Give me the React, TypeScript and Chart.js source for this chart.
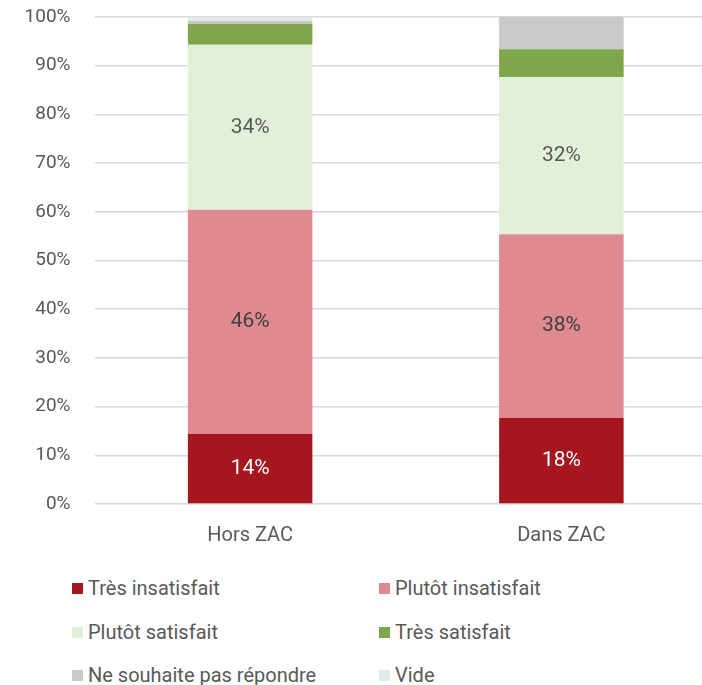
import React, { useEffect, useRef } from "react";
import { Chart, registerables } from "chart.js";

Chart.register(...registerables);

const categories = ["Hors ZAC", "Dans ZAC"];
const seriesNames = [
  "Très insatisfait",
  "Plutôt insatisfait",
  "Plutôt satisfait",
  "Très satisfait",
  "Ne souhaite pas répondre",
  "Vide",
];
const tresInsatisfait = [14.4, 17.7];
const plutotInsatisfait = [46.0, 37.7];
const plutotSatisfait = [33.9, 32.3];
const tresSatisfait = [4.3, 5.7];
const neSouhaitePas = [0.6, 6.6];
const vide = [0.8, 0];
const seriesValues = [tresInsatisfait, plutotInsatisfait, plutotSatisfait, tresSatisfait, neSouhaitePas, vide];
const colors = ["#A5161F", "#DF8A91", "#E2EFD9", "#7EA64B", "#C9C9C9", "#DFEAEA"];
const labelColors = ["#FFFFFF", "#404040", "#595959", "#595959", "#595959", "#595959"];
const yTicks = [0, 10, 20, 30, 40, 50, 60, 70, 80, 90, 100];

const FONT = "Roboto, 'DejaVu Sans', sans-serif";
const TEXT = "#595959";

const dataLabelPlugin = {
  id: "segLabels",
  afterDatasetsDraw(chart: any) {
    const ctx = chart.ctx;
    ctx.save();
    ctx.font = `400 21px ${FONT}`;
    ctx.textAlign = "center";
    ctx.textBaseline = "middle";
    chart.data.datasets.forEach((ds: any, di: number) => {
      const meta = chart.getDatasetMeta(di);
      meta.data.forEach((el: any, i: number) => {
        const v = ds.data[i];
        if (v < 10) return;
        ctx.fillStyle = labelColors[di];
        ctx.fillText(Math.round(v) + "%", el.x, (el.y + el.base) / 2);
      });
    });
    ctx.restore();
  },
};

export default function App() {
  const ref = useRef<HTMLCanvasElement>(null);
  useEffect(() => {
    if (!ref.current) return;
    const chart = new Chart(ref.current, {
      type: "bar",
      data: {
        labels: categories,
        datasets: seriesNames.map((n, i) => ({
          label: n,
          data: seriesValues[i],
          backgroundColor: colors[i],
          borderWidth: 0,
          categoryPercentage: 1,
          barPercentage: 0.4,
        })),
      },
      options: {
        animation: false,
        responsive: false,
        maintainAspectRatio: false,
        layout: { padding: { top: 17, right: 0, left: 0, bottom: 0 } },
        plugins: { legend: { display: false }, tooltip: { enabled: false } },
        scales: {
          x: {
            stacked: true,
            grid: { display: false, drawTicks: false },
            border: { display: false },
            ticks: { color: TEXT, font: { family: FONT, size: 20, weight: "400" as any }, padding: 20 },
            afterFit: (axis: any) => {
              axis.height = 56;
              axis.paddingLeft = 0;
              axis.paddingRight = 0;
            },
          },
          y: {
            stacked: true,
            min: 0,
            max: 100,
            afterBuildTicks: (axis: any) => {
              axis.ticks = yTicks.map((v) => ({ value: v }));
            },
            grid: { color: "#D9D9D9", lineWidth: 1.5, drawTicks: false },
            border: { display: false },
            ticks: {
              color: TEXT,
              font: { family: FONT, size: 19, weight: "400" as any },
              padding: 24,
              callback: (v: any) => v + "%",
            },
            afterFit: (axis: any) => {
              axis.width = 94.5;
              axis.paddingTop = 0;
              axis.paddingBottom = 0;
            },
          },
        },
      },
      plugins: [dataLabelPlugin],
    });
    return () => chart.destroy();
  }, []);

  const legendRows = [
    [0, 1],
    [2, 3],
    [4, 5],
  ];
  const colX = [72, 379];
  const rowY = [588, 632, 675];

  return (
    <div style={{ position: "absolute", left: 0, top: 0, width: 702, height: 685, overflow: "hidden", background: "#fff" }}>
      <canvas ref={ref} width={717} height={560} style={{ position: "absolute", left: 0, top: 0, width: 717, height: 560 }} />
      {legendRows.map((row, r) =>
        row.map((si, c) => (
          <div
            key={si}
            style={{
              position: "absolute",
              left: colX[c],
              top: rowY[r] - 15,
              height: 30,
              display: "flex",
              alignItems: "center",
              whiteSpace: "nowrap",
              fontFamily: FONT,
              fontWeight: 400,
              fontSize: 20,
              color: TEXT,
            }}
          >
            <span style={{ display: "inline-block", width: 11, height: 11, background: colors[si], marginRight: 5 }} />
            <span>{seriesNames[si]}</span>
          </div>
        ))
      )}
    </div>
  );
}
